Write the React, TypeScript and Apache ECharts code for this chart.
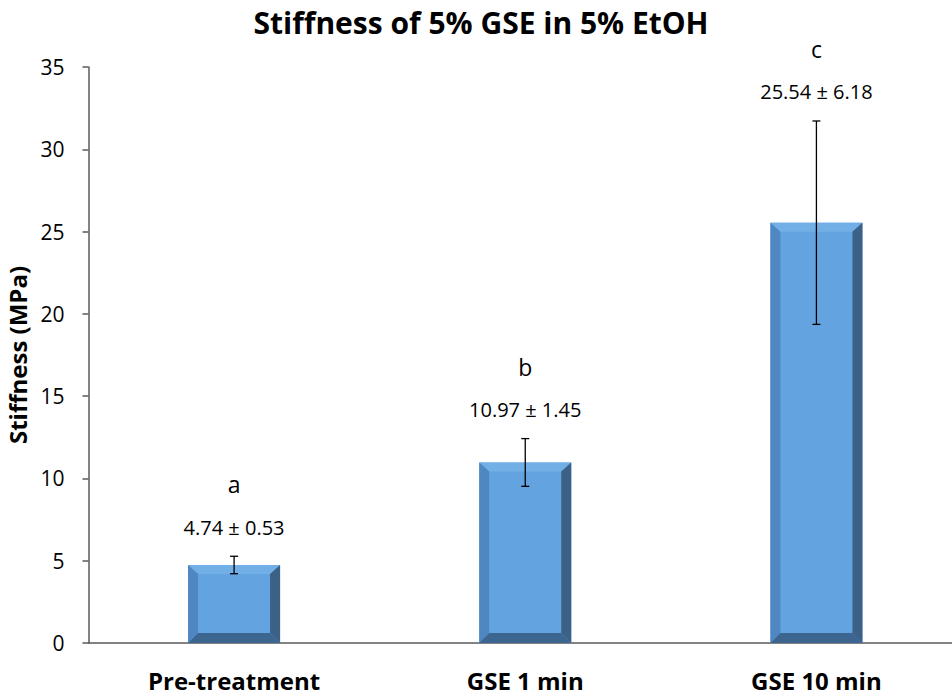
import React, { useEffect, useRef } from "react";
import * as echarts from "echarts";

const categories = ["Pre-treatment", "GSE 1 min", "GSE 10 min"];
const means = [4.74, 10.97, 25.54];
const sds = [0.53, 1.45, 6.18];
const letters = ["a", "b", "c"];
const yTicks = [0, 5, 10, 15, 20, 25, 30, 35];

export default function App() {
  const ref = useRef<HTMLDivElement>(null);
  useEffect(() => {
    if (!ref.current) return;
    const chart = echarts.init(ref.current, null, { renderer: "svg" });
    const barData = means.map((m, i) => [i, m]);
    const errData = means.map((m, i) => [i, m, sds[i]]);
    const option: any = {
      animation: false,
      backgroundColor: "#ffffff",
      title: {
        text: "Stiffness of 5% GSE in 5% EtOH",
        left: 476,
        textAlign: "center",
        top: 2,
        textStyle: { fontFamily: "Open Sans", fontWeight: "bold", fontSize: 30, color: "#000" },
      },
      grid: { left: 88.5, right: 0, top: 67, bottom: 53, containLabel: false, outerBoundsMode: "none" },
      xAxis: {
        type: "category",
        data: categories,
        axisLine: { lineStyle: { color: "#5a5a5a", width: 1.5 } },
        axisTick: { show: false },
        axisLabel: {
          fontFamily: "Open Sans",
          fontWeight: "bold",
          fontSize: 24,
          color: "#000",
          margin: 25,
        },
      },
      yAxis: {
        type: "value",
        min: yTicks[0],
        max: yTicks[yTicks.length - 1],
        interval: 5,
        name: "Stiffness (MPa)",
        nameLocation: "middle",
        nameGap: 54,
        nameRotate: 90,
        nameTextStyle: { fontFamily: "Open Sans", fontWeight: "bold", fontSize: 24, color: "#000" },
        axisLine: { show: true, lineStyle: { color: "#5a5a5a", width: 1.5 } },
        axisTick: { show: true, length: 6, lineStyle: { color: "#5a5a5a", width: 1.5 } },
        splitLine: { show: false },
        axisLabel: { fontFamily: "Open Sans", fontSize: 21, color: "#000", margin: 24 },
      },
      series: [
        {
          type: "custom",
          data: barData,
          encode: { x: 0, y: 1 },
          renderItem: (params: any, api: any) => {
            const idx = api.value(0);
            const val = api.value(1);
            const top = api.coord([idx, val]);
            const bot = api.coord([idx, 0]);
            const w = api.size([1, 0])[0] * 0.316;
            const x0 = top[0] - w / 2;
            const x1 = top[0] + w / 2;
            const yt = top[1];
            const yb = bot[1];
            const b = 10;
            const bb = 10;
            const t = 9;
            return {
              type: "group",
              children: [
                {
                  type: "rect",
                  shape: { x: x0, y: yt, width: w, height: yb - yt },
                  style: { fill: "#63a3df" },
                },
                {
                  type: "polygon",
                  shape: { points: [[x0, yt], [x1, yt], [x1 - b, yt + t], [x0 + b, yt + t]] },
                  style: { fill: "#72afe6" },
                },
                {
                  type: "polygon",
                  shape: { points: [[x0, yt], [x0 + b, yt + t], [x0 + b, yb - bb], [x0, yb]] },
                  style: { fill: "#4f87c2" },
                },
                {
                  type: "polygon",
                  shape: { points: [[x1, yt], [x1 - b, yt + t], [x1 - b, yb - bb], [x1, yb]] },
                  style: { fill: "#3b6187" },
                },
                {
                  type: "polygon",
                  shape: { points: [[x0, yb], [x0 + b, yb - bb], [x1 - b, yb - bb], [x1, yb]] },
                  style: { fill: "#3c658f" },
                },
              ],
            };
          },
          z: 2,
        },
        {
          type: "custom",
          data: errData,
          encode: { x: 0, y: [1, 2] },
          renderItem: (params: any, api: any) => {
            const idx = api.value(0);
            const m = api.value(1);
            const s = api.value(2);
            const hi = api.coord([idx, m + s]);
            const lo = api.coord([idx, m - s]);
            const cx = hi[0];
            const cap = 4;
            const lbl = `${m.toFixed(2)} ± ${s.toFixed(2)}`;
            return {
              type: "group",
              children: [
                { type: "line", shape: { x1: cx, y1: hi[1], x2: cx, y2: lo[1] }, style: { stroke: "#000", lineWidth: 1.3 } },
                { type: "line", shape: { x1: cx - cap, y1: hi[1], x2: cx + cap, y2: hi[1] }, style: { stroke: "#000", lineWidth: 1.3 } },
                { type: "line", shape: { x1: cx - cap, y1: lo[1], x2: cx + cap, y2: lo[1] }, style: { stroke: "#000", lineWidth: 1.3 } },
                {
                  type: "text",
                  style: {
                    text: lbl,
                    x: cx,
                    y: hi[1] - 29,
                    align: "center",
                    verticalAlign: "middle",
                    font: "20px 'Open Sans'",
                    fill: "#000",
                  },
                },
                {
                  type: "text",
                  style: {
                    text: letters[params.dataIndex],
                    x: cx,
                    y: hi[1] - 72,
                    align: "center",
                    verticalAlign: "middle",
                    font: "23px 'Open Sans'",
                    fill: "#000",
                  },
                },
              ],
            };
          },
          z: 3,
        },
      ],
    };
    chart.setOption(option);
    return () => chart.dispose();
  }, []);
  return (
    <div style={{ position: "fixed", left: 0, top: 0, width: 952, height: 696, overflow: "hidden" }}>
      <div ref={ref} style={{ position: "absolute", left: 0, top: 0, width: 962, height: 696 }} />
    </div>
  );
}
